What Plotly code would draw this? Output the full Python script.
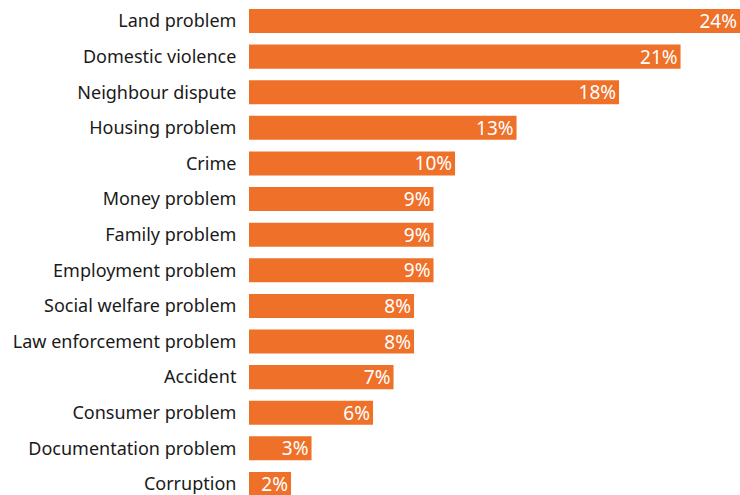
import plotly.graph_objects as go

categories = ["Land problem", "Domestic violence", "Neighbour dispute", "Housing problem",
              "Crime", "Money problem", "Family problem", "Employment problem",
              "Social welfare problem", "Law enforcement problem", "Accident",
              "Consumer problem", "Documentation problem", "Corruption"]
values = [23.95, 21.05, 18.05, 13.05, 10.05, 9.0, 9.0, 9.0, 8.05, 8.05, 7.05, 6.05, 3.05, 2.05]
labels = ["24%", "21%", "18%", "13%", "10%", "9%", "9%", "9%", "8%", "8%", "7%", "6%", "3%", "2%"]

fig = go.Figure(go.Bar(
    y=categories, x=values, orientation="h",
    marker=dict(color="#EE7029", line=dict(width=0)),
    width=0.675,
    text=labels, textposition="inside", insidetextanchor="end",
    textfont=dict(color="white", size=19, family="Noto Sans"),
    cliponaxis=False, hoverinfo="skip",
))
fig.update_layout(
    width=740, height=495,
    margin=dict(l=249, r=0, t=0, b=0),
    paper_bgcolor="white", plot_bgcolor="white",
    font=dict(family="Noto Sans", size=18, color="#1a1a1a"),
    showlegend=False,
    uniformtext=dict(minsize=19, mode="show"),
    xaxis=dict(range=[0, 23.95], visible=False, showgrid=False, zeroline=False),
    yaxis=dict(range=[13.31, -0.59], showgrid=False, zeroline=False, showline=False,
               ticks="outside", ticklen=8, tickcolor="rgba(0,0,0,0)",
               tickfont=dict(size=18, color="#1a1a1a")),
)
fig.write_html("out.html")
